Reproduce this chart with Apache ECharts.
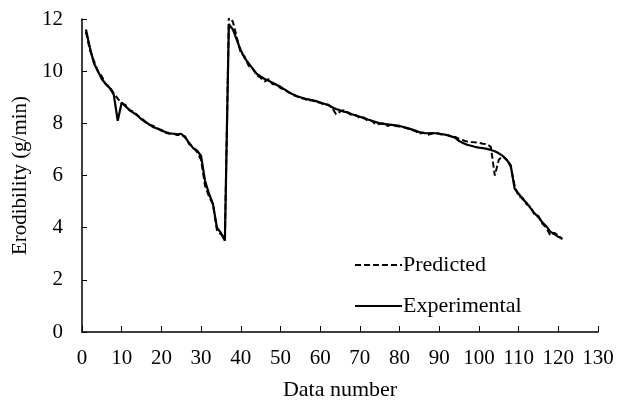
<!DOCTYPE html>
<html>
<head>
<meta charset="utf-8">
<script src="https://cdn.jsdelivr.net/npm/echarts@6/dist/echarts.min.js"></script>
<style>html,body{margin:0;padding:0;background:#fff}#c{width:625px;height:406px}</style>
</head>
<body>
<div id="c"></div>
<script>
var xTicks = [0,10,20,30,40,50,60,70,80,90,100,110,120,130];
var yTicks = [0,2,4,6,8,10,12];
var experimental = [
11.6,10.9,10.3,10.0,9.7,9.5,9.35,9.1,8.1,8.8,
8.65,8.5,8.4,8.3,8.15,8.05,7.95,7.85,7.8,7.72,
7.67,7.62,7.6,7.58,7.6,7.45,7.25,7.05,6.95,6.75,
5.8,5.3,4.9,4.0,3.8,3.5,11.8,11.6,11.2,10.8,
10.5,10.3,10.1,9.9,9.8,9.7,9.63,9.56,9.48,9.4,
9.3,9.2,9.12,9.05,9.0,8.95,8.92,8.88,8.85,8.8,
8.75,8.7,8.62,8.55,8.5,8.45,8.42,8.35,8.3,8.25,
8.2,8.15,8.1,8.05,8.0,7.98,7.96,7.94,7.92,7.9,
7.86,7.82,7.77,7.72,7.66,7.63,7.62,7.63,7.62,7.6,
7.58,7.55,7.5,7.45,7.32,7.25,7.18,7.14,7.1,7.07,
7.05,7.02,6.98,6.93,6.85,6.75,6.6,6.4,5.5,5.3,
5.1,4.95,4.75,4.55,4.4,4.2,4.05,3.85,3.75,3.65,
3.58];
var predicted = [
11.5,10.8,10.4,10.0,9.8,9.5,9.4,9.15,8.95,8.75,
8.7,8.5,8.45,8.3,8.2,8.05,7.95,7.9,7.8,7.75,
7.65,7.6,7.62,7.55,7.55,7.5,7.2,7.1,6.9,6.6,
5.6,5.2,4.9,3.9,3.75,3.6,12.1,11.9,11.3,10.7,
10.55,10.2,10.1,9.85,9.75,9.6,9.7,9.5,9.5,9.35,
9.3,9.2,9.1,9.05,8.95,8.95,8.85,8.9,8.8,8.8,
8.7,8.72,8.6,8.35,8.45,8.5,8.4,8.3,8.32,8.2,
8.22,8.1,8.1,7.95,7.98,8.0,7.9,7.95,7.9,7.88,
7.85,7.8,7.75,7.7,7.6,7.65,7.55,7.6,7.65,7.6,
7.55,7.55,7.5,7.48,7.4,7.35,7.3,7.28,7.27,7.25,
7.22,7.2,7.1,6.0,6.6,6.75,6.6,6.35,5.6,5.2,
5.15,4.9,4.8,4.5,4.45,4.15,4.0,3.7,3.8,3.7,
3.55];
function pairs(arr){ return arr.map(function(v,i){ return [i+1, v]; }); }
var font = 'Liberation Serif';
var chart = echarts.init(document.getElementById('c'));
chart.setOption({
  animation: false,
  backgroundColor: '#fff',
  grid: {left: 82, right: 27, top: 19, bottom: 73, containLabel: false},
  legend: {
    orient: 'vertical', left: 349, top: 249, itemWidth: 47, itemHeight: 20, itemGap: 19,
    itemStyle: {opacity: 0},
    textStyle: {fontFamily: font, fontSize: 22, color: '#000', padding: [0,0,0,-4]},
    data: [{name:'Predicted', itemStyle: {opacity: 0}},{name:'Experimental', itemStyle: {opacity: 0}}]
  },
  xAxis: {
    type: 'value', min: xTicks[0], max: xTicks[xTicks.length-1], interval: 10,
    name: 'Data number', nameLocation: 'middle', nameGap: 47,
    nameTextStyle: {fontFamily: font, fontSize: 22, color: '#000'},
    axisLine: {lineStyle: {color: '#000', width: 1.5}},
    axisTick: {inside: true, length: 6, lineStyle: {color: '#000', width: 1}},
    axisLabel: {fontFamily: font, fontSize: 21, color: '#000', margin: 16},
    splitLine: {show: false}
  },
  yAxis: {
    type: 'value', min: yTicks[0], max: yTicks[yTicks.length-1], interval: 2,
    name: 'Erodibility (g/min)', nameLocation: 'middle', nameGap: 47,
    nameTextStyle: {fontFamily: font, fontSize: 21, color: '#000'},
    axisLine: {show: true, lineStyle: {color: '#000', width: 1.5}},
    axisTick: {show: true, inside: true, length: 5, lineStyle: {color: '#000', width: 1}},
    axisLabel: {fontFamily: font, fontSize: 21, color: '#000', margin: 19},
    splitLine: {show: false}
  },
  series: [
    {name: 'Predicted', type: 'line', data: pairs(predicted), symbol: 'none',
     lineStyle: {color: '#000', width: 2, type: [6, 3]}, itemStyle: {color: '#000'}, z: 2},
    {name: 'Experimental', type: 'line', data: pairs(experimental), symbol: 'none',
     lineStyle: {color: '#000', width: 2.2}, itemStyle: {color: '#000'}, z: 3}
  ]
});
</script>
</body>
</html>
